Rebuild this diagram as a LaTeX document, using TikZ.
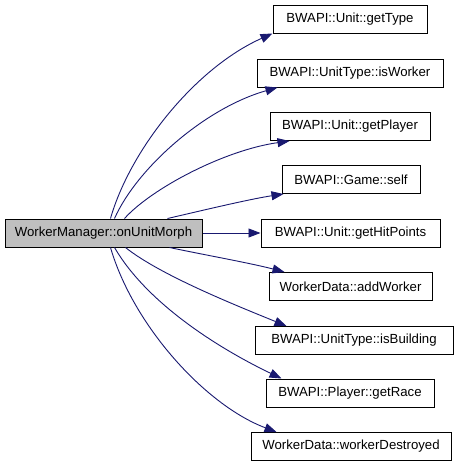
\documentclass[tikz,border=0pt]{standalone}
\usepackage{fontspec}
\setmainfont{Liberation Sans}
\usetikzlibrary{arrows.meta}
\definecolor{edgeblue}{HTML}{191970}
\definecolor{maingray}{HTML}{BFBFBF}
\tikzset{
  fnbox/.style={draw=black, line width=1pt, fill=white, minimum height=28pt, inner sep=0pt,
    font=\fontsize{13.2}{16}\selectfont},
  mainbox/.style={fnbox, fill=maingray},
  call/.style={draw=edgeblue, line width=0.9pt, -{Triangle[length=12pt,width=9pt]}, edgeblue}
}
\begin{document}
\begin{tikzpicture}[x=1pt,y=-1pt]
\useasboundingbox[fill=white] (0,0) rectangle (456,467);
\node[mainbox, minimum width=197pt] (m) at (103.5,233) {WorkerManager::onUnitMorph};
\node[fnbox, minimum width=154pt] (n1) at (350,19) {BWAPI::Unit::getType};
\node[fnbox, minimum width=186pt] (n2) at (350,73) {BWAPI::UnitType::isWorker};
\node[fnbox, minimum width=160pt] (n3) at (350,126.5) {BWAPI::Unit::getPlayer};
\node[fnbox, minimum width=138pt] (n4) at (351,179.5) {BWAPI::Game::self};
\node[fnbox, minimum width=179pt] (n5) at (350.5,233) {BWAPI::Unit::getHitPoints};
\node[fnbox, minimum width=163pt] (n6) at (350.5,286.5) {WorkerData::addWorker};
\node[fnbox, minimum width=198pt] (n7) at (354,340.5) {BWAPI::UnitType::isBuilding};
\node[fnbox, minimum width=168pt] (n8) at (350,393) {BWAPI::Player::getRace};
\node[fnbox, minimum width=200pt] (n9) at (351,446.5) {WorkerData::workerDestroyed};

\draw[call] ([xshift=106pt]m.north west) .. controls (130,150) and (195,68) .. (n1.south west);
\draw[call] ([xshift=110pt]m.north west) .. controls (137,168) and (205,108) .. ([xshift=21pt]n2.south west);
\draw[call] ([xshift=120pt]m.north west) .. controls (152,188) and (225,150) .. ([xshift=20pt]n3.south west);
\draw[call] ([xshift=163pt]m.north west) .. controls (200,211) and (250,199) .. ([xshift=2pt]n4.south west);
\draw[call] (m.east) -- (n5.west);
\draw[call] ([xshift=165pt]m.south west) .. controls (205,255) and (250,263) .. ([xshift=16pt]n6.north west);
\draw[call] ([xshift=121pt]m.south west) .. controls (160,275) and (235,305) .. ([xshift=32pt]n7.north west);
\draw[call] ([xshift=110pt]m.south west) .. controls (148,305) and (222,350) .. ([xshift=16pt]n8.north west);
\draw[call] ([xshift=106pt]m.south west) .. controls (133,325) and (205,405) .. ([xshift=26pt]n9.north west);
\end{tikzpicture}
\end{document}
